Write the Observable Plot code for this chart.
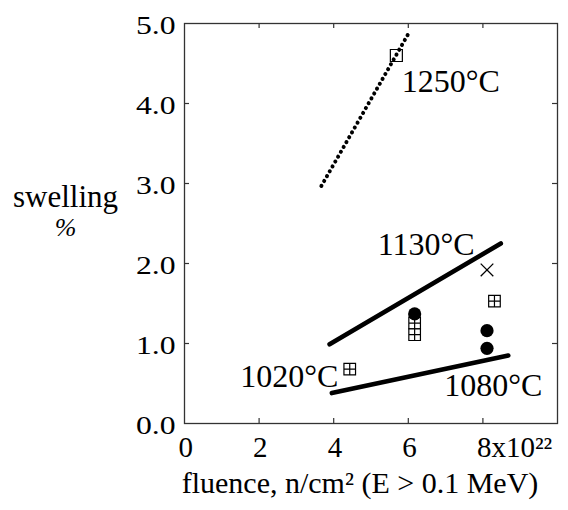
<!DOCTYPE html>
<html>
<head>
<meta charset="utf-8">
<script src="https://cdn.jsdelivr.net/npm/d3@7"></script>
<script src="https://cdn.jsdelivr.net/npm/@observablehq/plot@0.6"></script>
<style>
  html, body { margin: 0; padding: 0; background: white; }
</style>
</head>
<body>
<script>
// ---- data ----
const xTicks = [0, 2, 4, 6, 8];
const xTickInner = [2, 4, 6, 8];
const yTicks = [0, 1, 2, 3, 4, 5];
const yTickInner = [1, 2, 3, 4];

// fitted lines (fluence 1e22 n/cm2, swelling %)
const line1250X = [3.67, 6.0];
const line1250Y = [2.97, 4.87];
const line1130X = [3.89, 8.48];
const line1130Y = [0.99, 2.25];
const line1080X = [3.95, 8.68];
const line1080Y = [0.38, 0.85];

// measured points
const filledX = [6.17, 8.11, 8.11];
const filledY = [1.37, 1.16, 0.94];
const crossSqX = [6.17, 6.17, 8.31, 4.43];
const crossSqY = [1.255, 1.11, 1.53, 0.68];
const openSqX = [5.68];
const openSqY = [4.60];
const timesX = [8.11];
const timesY = [1.92];

// temperature labels
const labelText = ["1250°C", "1130°C", "1020°C", "1080°C"];
const labelX = [7.14, 6.48, 2.81, 8.28];
const labelY = [4.27, 2.23, 0.58, 0.47];

const xTitle = "fluence, n/cm² (E > 0.1 MeV)";
const yTitle1 = "swelling";
const yTitle2 = "%";

// ---- helpers ----
const pts = (xs, ys) => xs.map((x, i) => ({x, y: ys[i]}));

const squareSym = {draw(ctx, size) {
  const h = Math.sqrt(size / Math.PI);
  ctx.moveTo(-h, -h); ctx.lineTo(h, -h); ctx.lineTo(h, h); ctx.lineTo(-h, h); ctx.closePath();
}};
const crossSquareSym = {draw(ctx, size) {
  const h = Math.sqrt(size / Math.PI);
  ctx.moveTo(-h, -h); ctx.lineTo(h, -h); ctx.lineTo(h, h); ctx.lineTo(-h, h); ctx.closePath();
  ctx.moveTo(0, -h); ctx.lineTo(0, h);
  ctx.moveTo(-h, 0); ctx.lineTo(h, 0);
}};
const timesSym = {draw(ctx, size) {
  const h = Math.sqrt(size / Math.PI);
  ctx.moveTo(-h, -h); ctx.lineTo(h, h);
  ctx.moveTo(h, -h); ctx.lineTo(-h, h);
}};

const W = 568, H = 510, mL = 184, mR = 11, mT = 23, mB = 87;
const frameH = H - mT - mB, frameW = W - mL - mR;
const axisColor = "#333";
const serif = "'Liberation Serif', 'Times New Roman', serif";

const chart = Plot.plot({
  width: W, height: H,
  marginLeft: mL, marginRight: mR, marginTop: mT, marginBottom: mB,
  style: {fontFamily: serif, background: "white", color: "black"},
  x: {domain: [0, 10]},
  y: {domain: [0, 5]},
  marks: [
    Plot.frame({stroke: axisColor, strokeWidth: 1.3}),
    // inward ticks
    Plot.tickX(xTickInner, {x: d => d, insetTop: frameH - 5, stroke: axisColor, strokeWidth: 1.2}),
    Plot.tickX(xTickInner, {x: d => d, insetBottom: frameH - 5, stroke: axisColor, strokeWidth: 1.2}),
    Plot.tickY(yTickInner, {y: d => d, insetRight: frameW - 5, stroke: axisColor, strokeWidth: 1.2}),
    Plot.tickY(yTickInner, {y: d => d, insetLeft: frameW - 5, stroke: axisColor, strokeWidth: 1.2}),
    Plot.axisX({ticks: xTicks, tickSize: 0, tickPadding: 13, fontSize: 29, fontFamily: serif,
      textAnchor: "start", dx: -6, fontVariant: "normal",
      tickFormat: d => d === 8 ? "8x10²²" : String(d), label: null}),
    Plot.axisY({ticks: yTicks, tickSize: 0, tickPadding: 9, fontSize: 26, fontFamily: serif, dy: 2,
      fontVariant: "normal", tickFormat: d => d.toFixed(1), label: null}),
    // lines
    Plot.line(pts(line1250X, line1250Y), {x: "x", y: "y", stroke: "black", strokeWidth: 4,
      strokeDasharray: "0.1,5.5", strokeLinecap: "round"}),
    Plot.line(pts(line1130X, line1130Y), {x: "x", y: "y", stroke: "black", strokeWidth: 4.6, strokeLinecap: "round"}),
    Plot.line(pts(line1080X, line1080Y), {x: "x", y: "y", stroke: "black", strokeWidth: 4.6, strokeLinecap: "round"}),
    // markers
    Plot.dot(pts(crossSqX, crossSqY), {x: "x", y: "y", symbol: crossSquareSym, r: 5.8, fill: "white", stroke: "black", strokeWidth: 1.2}),
    Plot.dot(pts(openSqX, openSqY), {x: "x", y: "y", symbol: squareSym, r: 6, fill: "none", stroke: "black", strokeWidth: 1.2}),
    Plot.dot(pts(timesX, timesY), {x: "x", y: "y", symbol: timesSym, r: 6.3, fill: "none", stroke: "black", strokeWidth: 1.3}),
    Plot.dot(pts(filledX, filledY), {x: "x", y: "y", r: 6.6, fill: "black", stroke: "none"}),
    // temperature labels
    Plot.text(labelText, {x: (d, i) => labelX[i], y: (d, i) => labelY[i], text: d => d,
      fontSize: 32, fontFamily: serif, fill: "black"}),
    // axis titles
    Plot.text([xTitle], {text: d => d, frameAnchor: "bottom", textAnchor: "middle", lineAnchor: "middle",
      dx: -11, dy: 60, fontSize: 30, fontFamily: serif, fill: "black"}),
    Plot.text([yTitle1], {text: d => d, frameAnchor: "left", textAnchor: "middle", lineAnchor: "middle",
      dx: -119, dy: -26, fontSize: 31, fontFamily: serif, fill: "black"}),
    Plot.text([yTitle2], {text: d => d, frameAnchor: "left", textAnchor: "middle", lineAnchor: "middle",
      dx: -119, dy: 4, fontSize: 26, fontStyle: "italic", fontFamily: serif, fill: "black"})
  ]
});

document.body.append(chart);
// the reference's y tick numerals are set wider than the font's natural width
chart.querySelectorAll('g[aria-label="y-axis tick label"] text').forEach(t => {
  const w = t.getComputedTextLength();
  t.setAttribute("textLength", (w * 1.22).toFixed(1));
  t.setAttribute("lengthAdjust", "spacingAndGlyphs");
});
</script>
</body>
</html>
